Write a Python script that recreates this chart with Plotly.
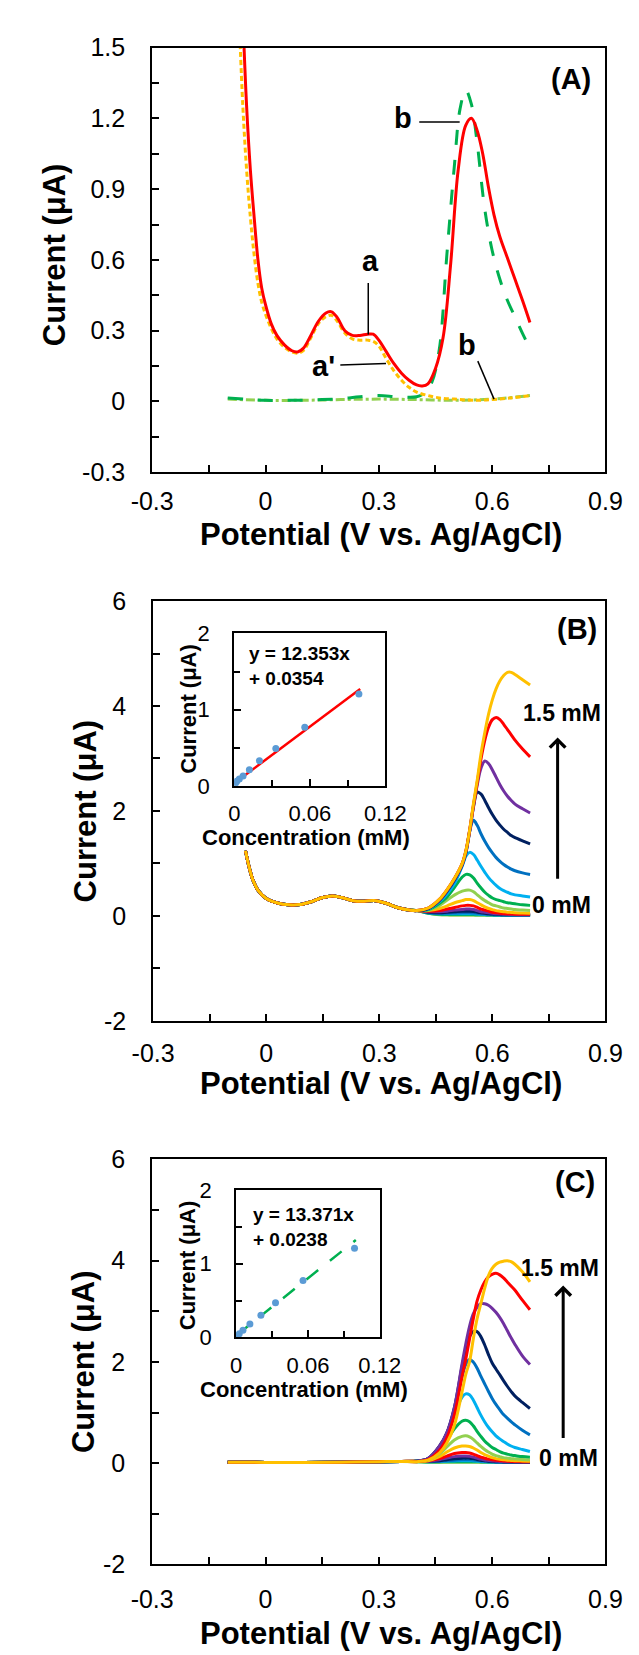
import plotly.graph_objects as go

W, H = 639, 1655
FONT = "Arial, 'Liberation Sans', sans-serif"

# ---------------- Panel A data ----------------
a_red_x = [-0.058, -0.05, -0.04, -0.03, -0.02, -0.01, 0.0, 0.015, 0.03, 0.05, 0.07, 0.085, 0.10, 0.12, 0.14, 0.16,
           0.175, 0.19, 0.21, 0.23, 0.25, 0.27, 0.285, 0.30, 0.32, 0.34, 0.36, 0.38, 0.40, 0.415, 0.43, 0.45, 0.47,
           0.49, 0.51, 0.53, 0.545, 0.56, 0.575, 0.59, 0.605, 0.62, 0.64, 0.66, 0.68, 0.70]
a_red_y = [1.55, 1.25, 0.98, 0.78, 0.60, 0.48, 0.41, 0.33, 0.28, 0.24, 0.215, 0.21, 0.225, 0.28, 0.34, 0.375,
           0.38, 0.355, 0.30, 0.28, 0.28, 0.285, 0.285, 0.26, 0.21, 0.16, 0.12, 0.09, 0.07, 0.066, 0.075, 0.14, 0.27,
           0.58, 0.98, 1.17, 1.20, 1.15, 1.05, 0.91, 0.79, 0.70, 0.61, 0.52, 0.43, 0.335]

a_orange_x = [-0.068, -0.06, -0.05, -0.04, -0.03, -0.02, -0.01, 0.0, 0.015, 0.03, 0.05, 0.07, 0.085, 0.10, 0.12,
              0.14, 0.16, 0.175, 0.19, 0.21, 0.23, 0.25, 0.27, 0.285, 0.30, 0.32, 0.34, 0.36, 0.38, 0.40, 0.43,
              0.46, 0.50, 0.55, 0.60, 0.65, 0.70]
a_orange_y = [1.55, 1.25, 0.98, 0.78, 0.62, 0.50, 0.42, 0.37, 0.31, 0.265, 0.23, 0.21, 0.205, 0.215, 0.27,
              0.33, 0.36, 0.365, 0.34, 0.29, 0.265, 0.26, 0.26, 0.255, 0.235, 0.18, 0.13, 0.09, 0.06, 0.04, 0.025,
              0.015, 0.01, 0.005, 0.008, 0.015, 0.025]

a_green_x = [-0.10, -0.05, 0.0, 0.05, 0.10, 0.15, 0.20, 0.25, 0.30, 0.35, 0.40, 0.42, 0.44, 0.46, 0.48, 0.50,
             0.515, 0.53, 0.545, 0.56, 0.58, 0.60, 0.62, 0.64, 0.66, 0.68, 0.70]
a_green_y = [0.015, 0.01, 0.005, 0.005, 0.005, 0.008, 0.012, 0.02, 0.025, 0.02, 0.02, 0.035, 0.08, 0.22, 0.62, 1.0,
             1.24, 1.32, 1.26, 1.10, 0.82, 0.64, 0.52, 0.43, 0.36, 0.29, 0.225]

a_lgreen_x = [-0.10, 0.0, 0.10, 0.20, 0.30, 0.40, 0.50, 0.60, 0.70]
a_lgreen_y = [0.01, 0.005, 0.005, 0.008, 0.01, 0.008, 0.005, 0.01, 0.025]

# ---------------- Panels B / C shared grid ----------------
peak_x = [0.40, 0.43, 0.46, 0.48, 0.50, 0.52, 0.53, 0.54, 0.55, 0.56, 0.57, 0.58, 0.59, 0.60, 0.61, 0.62, 0.63,
          0.64, 0.65, 0.66, 0.68, 0.70]
curve_colors = ["#FFC000", "#FF0000", "#7030A0", "#002060", "#0070C0", "#00B0F0", "#00B050", "#92D050",
                "#FFC000", "#FF0000", "#7030A0", "#002060", "#0070C0", "#00B0F0", "#00B050", "#92D050"]

# Panel B (first = 1.5 mM, last = 0 mM)
b_base_x = [-0.055, -0.045, -0.035, -0.02, 0.0, 0.03, 0.06, 0.09, 0.12, 0.15, 0.175, 0.20, 0.23, 0.26, 0.29,
            0.32, 0.35, 0.38]
b_base_y = [1.24, 0.92, 0.68, 0.47, 0.33, 0.245, 0.21, 0.215, 0.27, 0.35, 0.38, 0.35, 0.29, 0.28, 0.29, 0.235,
            0.155, 0.11]
b_peaks = [
    [0.10, 0.15, 0.32, 0.50, 0.72, 1.00, 1.25, 1.65, 2.15, 2.60, 3.10, 3.50, 3.85, 4.12, 4.33, 4.48, 4.58, 4.64, 4.64, 4.60, 4.50, 4.40],
    [0.10, 0.15, 0.32, 0.50, 0.72, 1.00, 1.25, 1.65, 2.12, 2.55, 3.00, 3.35, 3.60, 3.74, 3.78, 3.74, 3.65, 3.55, 3.45, 3.35, 3.18, 3.03],
    [0.10, 0.15, 0.31, 0.49, 0.71, 0.99, 1.24, 1.63, 2.10, 2.50, 2.82, 2.95, 2.90, 2.78, 2.64, 2.50, 2.38, 2.28, 2.20, 2.13, 2.04, 1.96],
    [0.10, 0.14, 0.30, 0.48, 0.70, 0.98, 1.22, 1.62, 2.08, 2.36, 2.32, 2.20, 2.06, 1.93, 1.82, 1.73, 1.65, 1.59, 1.53, 1.49, 1.43, 1.37],
    [0.10, 0.14, 0.29, 0.46, 0.68, 0.96, 1.20, 1.62, 1.82, 1.72, 1.56, 1.42, 1.30, 1.20, 1.11, 1.04, 0.98, 0.93, 0.89, 0.86, 0.82, 0.79],
    [0.10, 0.13, 0.27, 0.42, 0.62, 0.95, 1.14, 1.21, 1.17, 1.06, 0.94, 0.83, 0.73, 0.65, 0.58, 0.52, 0.48, 0.45, 0.42, 0.40, 0.38, 0.36],
    [0.10, 0.12, 0.24, 0.36, 0.55, 0.74, 0.79, 0.78, 0.72, 0.62, 0.53, 0.45, 0.39, 0.34, 0.31, 0.29, 0.27, 0.25, 0.24, 0.23, 0.21, 0.20],
    [0.10, 0.11, 0.20, 0.30, 0.40, 0.47, 0.49, 0.49, 0.46, 0.40, 0.34, 0.29, 0.25, 0.21, 0.19, 0.17, 0.15, 0.14, 0.13, 0.12, 0.11, 0.10],
    [0.10, 0.10, 0.14, 0.19, 0.25, 0.29, 0.31, 0.31, 0.29, 0.25, 0.21, 0.17, 0.14, 0.12, 0.10, 0.09, 0.08, 0.07, 0.065, 0.06, 0.055, 0.05],
    [0.10, 0.09, 0.10, 0.13, 0.16, 0.19, 0.20, 0.20, 0.19, 0.16, 0.13, 0.11, 0.09, 0.07, 0.06, 0.05, 0.045, 0.04, 0.035, 0.03, 0.03, 0.03],
    [0.10, 0.08, 0.08, 0.09, 0.11, 0.12, 0.13, 0.13, 0.12, 0.10, 0.08, 0.07, 0.06, 0.05, 0.04, 0.035, 0.03, 0.03, 0.025, 0.025, 0.02, 0.02],
    [0.10, 0.07, 0.06, 0.07, 0.08, 0.09, 0.09, 0.09, 0.085, 0.07, 0.06, 0.05, 0.04, 0.035, 0.03, 0.025, 0.02, 0.02, 0.02, 0.02, 0.02, 0.02],
    [0.10, 0.06, 0.05, 0.05, 0.055, 0.06, 0.06, 0.06, 0.055, 0.05, 0.04, 0.035, 0.03, 0.025, 0.02, 0.02, 0.02, 0.015, 0.015, 0.015, 0.015, 0.015],
    [0.10, 0.06, 0.04, 0.04, 0.04, 0.04, 0.04, 0.04, 0.04, 0.035, 0.03, 0.025, 0.02, 0.02, 0.015, 0.015, 0.015, 0.015, 0.01, 0.01, 0.01, 0.01],
    [0.10, 0.05, 0.03, 0.025, 0.025, 0.025, 0.025, 0.025, 0.025, 0.02, 0.02, 0.02, 0.015, 0.015, 0.01, 0.01, 0.01, 0.01, 0.01, 0.01, 0.01, 0.01],
    [0.10, 0.05, 0.02, 0.015, 0.01, 0.01, 0.01, 0.01, 0.01, 0.01, 0.01, 0.01, 0.01, 0.01, 0.01, 0.01, 0.01, 0.01, 0.01, 0.01, 0.01, 0.01],
]

# Panel C
c_base_x = [-0.10, 0.0, 0.10, 0.20, 0.30, 0.36]
c_base_y = [0.02, 0.015, 0.015, 0.02, 0.03, 0.035]
c_peaks = [
    [0.03, 0.06, 0.20, 0.40, 0.75, 1.40, 1.75, 2.00, 2.45, 2.85, 3.15, 3.45, 3.70, 3.85, 3.93, 3.97, 3.99, 4.00, 3.98, 3.93, 3.78, 3.58],
    [0.03, 0.07, 0.25, 0.50, 0.95, 1.70, 2.05, 2.45, 2.85, 3.20, 3.42, 3.58, 3.68, 3.73, 3.75, 3.72, 3.66, 3.58, 3.50, 3.42, 3.22, 3.03],
    [0.04, 0.09, 0.33, 0.60, 1.10, 1.95, 2.35, 2.70, 2.95, 3.08, 3.15, 3.15, 3.12, 3.06, 2.98, 2.88, 2.76, 2.62, 2.48, 2.35, 2.12, 1.95],
    [0.04, 0.09, 0.33, 0.60, 1.10, 1.90, 2.25, 2.50, 2.60, 2.60, 2.50, 2.34, 2.15, 1.98, 1.86, 1.75, 1.63, 1.52, 1.42, 1.33, 1.20, 1.08],
    [0.04, 0.09, 0.32, 0.58, 1.05, 1.70, 1.95, 2.05, 2.00, 1.88, 1.72, 1.57, 1.42, 1.28, 1.16, 1.06, 0.96, 0.89, 0.82, 0.76, 0.65, 0.56],
    [0.04, 0.08, 0.30, 0.55, 0.95, 1.30, 1.37, 1.35, 1.25, 1.10, 0.95, 0.82, 0.71, 0.62, 0.54, 0.48, 0.43, 0.38, 0.34, 0.31, 0.27, 0.23],
    [0.04, 0.07, 0.25, 0.45, 0.68, 0.83, 0.85, 0.82, 0.74, 0.63, 0.53, 0.44, 0.37, 0.31, 0.27, 0.23, 0.20, 0.18, 0.16, 0.15, 0.13, 0.12],
    [0.04, 0.06, 0.18, 0.32, 0.46, 0.53, 0.54, 0.52, 0.47, 0.40, 0.33, 0.27, 0.22, 0.18, 0.15, 0.13, 0.11, 0.10, 0.09, 0.085, 0.075, 0.07],
    [0.04, 0.05, 0.13, 0.22, 0.30, 0.34, 0.34, 0.33, 0.30, 0.26, 0.21, 0.17, 0.14, 0.11, 0.09, 0.08, 0.07, 0.06, 0.055, 0.05, 0.045, 0.04],
    [0.04, 0.05, 0.09, 0.14, 0.19, 0.21, 0.21, 0.20, 0.18, 0.15, 0.12, 0.10, 0.08, 0.07, 0.06, 0.05, 0.045, 0.04, 0.035, 0.035, 0.03, 0.03],
    [0.04, 0.04, 0.07, 0.10, 0.13, 0.14, 0.14, 0.135, 0.12, 0.10, 0.08, 0.065, 0.055, 0.045, 0.04, 0.035, 0.03, 0.03, 0.03, 0.025, 0.025, 0.025],
    [0.04, 0.04, 0.05, 0.07, 0.09, 0.10, 0.10, 0.10, 0.09, 0.075, 0.06, 0.05, 0.04, 0.035, 0.03, 0.03, 0.025, 0.025, 0.025, 0.02, 0.02, 0.02],
    [0.04, 0.035, 0.04, 0.05, 0.06, 0.07, 0.07, 0.07, 0.065, 0.055, 0.045, 0.04, 0.035, 0.03, 0.025, 0.025, 0.02, 0.02, 0.02, 0.02, 0.02, 0.02],
    [0.035, 0.03, 0.035, 0.04, 0.045, 0.05, 0.05, 0.05, 0.045, 0.04, 0.035, 0.03, 0.025, 0.025, 0.02, 0.02, 0.02, 0.02, 0.02, 0.02, 0.02, 0.02],
    [0.03, 0.025, 0.025, 0.03, 0.03, 0.03, 0.03, 0.03, 0.03, 0.03, 0.025, 0.025, 0.02, 0.02, 0.02, 0.02, 0.02, 0.02, 0.02, 0.02, 0.02, 0.02],
    [0.03, 0.02, 0.02, 0.02, 0.02, 0.02, 0.02, 0.02, 0.02, 0.02, 0.02, 0.02, 0.02, 0.02, 0.02, 0.02, 0.02, 0.02, 0.02, 0.02, 0.02, 0.02],
]

# Insets (calibration)
b_conc = [0.0005, 0.001, 0.002, 0.004, 0.007, 0.012, 0.020, 0.033, 0.056, 0.099]
b_curr = [0.02, 0.04, 0.06, 0.09, 0.13, 0.21, 0.33, 0.49, 0.77, 1.205]
b_fit_x = [0.0, 0.1]
b_fit_y = [0.035, 1.27]
c_conc = [0.0005, 0.001, 0.0026, 0.0057, 0.0115, 0.0207, 0.0329, 0.0559, 0.0989]
c_curr = [0.01, 0.02, 0.048, 0.096, 0.18, 0.30, 0.47, 0.77, 1.21]
c_fit_x = [0.0, 0.1]
c_fit_y = [0.024, 1.32]

# Tick labels
main_x_ticks = [-0.3, 0.0, 0.3, 0.6, 0.9]
main_x_text = ["-0.3", "0", "0.3", "0.6", "0.9"]
main_x_minor = [-0.15, 0.15, 0.45, 0.75]
a_y_ticks = [-0.3, 0.0, 0.3, 0.6, 0.9, 1.2, 1.5]
a_y_text = ["-0.3", "0", "0.3", "0.6", "0.9", "1.2", "1.5"]
a_y_minor = [-0.15, 0.15, 0.45, 0.75, 1.05, 1.35]
bc_y_ticks = [-2, 0, 2, 4, 6]
bc_y_text = ["-2", "0", "2", "4", "6"]
bc_y_minor = [-1, 1, 3, 5]
in_x_ticks = [0, 0.06, 0.12]
in_x_text = ["0", "0.06", "0.12"]
in_x_minor = [0.03, 0.09]
in_y_ticks = [0, 1, 2]
in_y_text = ["0", "1", "2"]
in_y_minor = [0.5, 1.5]

fig = go.Figure()


def px(v):
    return v / W


def py(v):
    return 1 - v / H


# Panel A traces
fig.add_trace(go.Scatter(x=a_lgreen_x, y=a_lgreen_y, mode="lines", xaxis="x", yaxis="y",
                         line=dict(color="#92D050", width=3, dash="dashdot", shape="spline")))
fig.add_trace(go.Scatter(x=a_green_x, y=a_green_y, mode="lines", xaxis="x", yaxis="y",
                         line=dict(color="#00B050", width=3, dash="longdash", shape="spline")))
fig.add_trace(go.Scatter(x=a_orange_x, y=a_orange_y, mode="lines", xaxis="x", yaxis="y",
                         line=dict(color="#FFC000", width=3, dash="5px,3px", shape="spline")))
fig.add_trace(go.Scatter(x=a_red_x, y=a_red_y, mode="lines", xaxis="x", yaxis="y",
                         line=dict(color="#FF0000", width=3, shape="spline")))

# Panel B traces (0 mM drawn first)
for i in reversed(range(len(b_peaks))):
    fig.add_trace(go.Scatter(x=b_base_x + peak_x, y=b_base_y + b_peaks[i], mode="lines", xaxis="x2", yaxis="y2",
                             line=dict(color=curve_colors[i], width=3, shape="spline")))
# Panel C traces
for i in reversed(range(len(c_peaks))):
    fig.add_trace(go.Scatter(x=c_base_x + peak_x, y=c_base_y + c_peaks[i], mode="lines", xaxis="x3", yaxis="y3",
                             line=dict(color=curve_colors[i], width=3, shape="spline")))

# Insets
fig.add_trace(go.Scatter(x=b_fit_x, y=b_fit_y, mode="lines", xaxis="x4", yaxis="y4",
                         line=dict(color="#FF0000", width=2.5)))
fig.add_trace(go.Scatter(x=b_conc, y=b_curr, mode="markers", xaxis="x4", yaxis="y4",
                         marker=dict(color="#5B9BD5", size=7)))
fig.add_trace(go.Scatter(x=c_fit_x, y=c_fit_y, mode="lines", xaxis="x5", yaxis="y5",
                         line=dict(color="#00B050", width=2.5, dash="longdash")))
fig.add_trace(go.Scatter(x=c_conc, y=c_curr, mode="markers", xaxis="x5", yaxis="y5",
                         marker=dict(color="#5B9BD5", size=7)))

axis_common = dict(showline=True, linewidth=2, linecolor="black", mirror=True, showgrid=False, zeroline=False,
                   ticks="inside", ticklen=7, tickwidth=1.5, tickcolor="black", tickmode="array")


def main_x(dom, anchor, stand):
    return dict(axis_common, domain=dom, anchor=anchor, range=[-0.3, 0.9], tickvals=main_x_ticks,
                ticktext=main_x_text, tickfont=dict(size=25, color="black"), ticklabelstandoff=stand,
                minor=dict(tickmode="array", tickvals=main_x_minor, ticks="inside", ticklen=7, tickwidth=1.5,
                           tickcolor="black", showgrid=False))


def main_y(dom, anchor, rng, tv, tt, mv):
    return dict(axis_common, domain=dom, anchor=anchor, range=rng, tickvals=tv, ticktext=tt,
                tickfont=dict(size=25, color="black"), ticklabelstandoff=20,
                minor=dict(tickmode="array", tickvals=mv, ticks="inside", ticklen=7, tickwidth=1.5,
                           tickcolor="black", showgrid=False))


def inset_x(dom, anchor):
    return dict(axis_common, domain=dom, anchor=anchor, range=[0, 0.12], tickvals=in_x_ticks, ticktext=in_x_text,
                tickfont=dict(size=22, color="black"), ticklabelstandoff=7,
                minor=dict(tickmode="array", tickvals=in_x_minor, ticks="inside", ticklen=6, tickwidth=1.5,
                           tickcolor="black", showgrid=False))


def inset_y(dom, anchor):
    return dict(axis_common, domain=dom, anchor=anchor, range=[0, 2], tickvals=in_y_ticks, ticktext=in_y_text,
                tickfont=dict(size=22, color="black"), ticklabelstandoff=18,
                minor=dict(tickmode="array", tickvals=in_y_minor, ticks="inside", ticklen=6, tickwidth=1.5,
                           tickcolor="black", showgrid=False))


fig.update_layout(
    width=W, height=H, autosize=False, showlegend=False,
    margin=dict(l=0, r=0, t=0, b=0),
    paper_bgcolor="white", plot_bgcolor="white",
    font=dict(family=FONT, color="black"),
    xaxis=main_x([px(131), px(617)], "y", 6),
    yaxis=main_y([py(458), py(26)], "x", [-0.3, 1.5], a_y_ticks, a_y_text, a_y_minor),
    xaxis2=main_x([px(132), px(617)], "y2", 9),
    yaxis2=main_y([py(1016), py(589)], "x2", [-2, 6], bc_y_ticks, bc_y_text, bc_y_minor),
    xaxis3=main_x([px(131), px(617)], "y3", 12),
    yaxis3=main_y([py(1569), py(1157)], "x3", [-2, 6], bc_y_ticks, bc_y_text, bc_y_minor),
    xaxis4=inset_x([px(219), px(381)], "y4"),
    yaxis4=inset_y([py(777), py(622)], "x4"),
    xaxis5=inset_x([px(221), px(375)], "y5"),
    yaxis5=inset_y([py(1338), py(1188)], "x5"),
)

ann = []


def label(text, x, y, size, xref="paper", yref="paper", angle=0, xanchor="center", align="center"):
    ann.append(dict(text=text, x=x, y=y, xref=xref, yref=yref, showarrow=False, textangle=angle,
                    xanchor=xanchor, yanchor="middle", align=align,
                    font=dict(size=size, color="black", family=FONT)))


# axis titles
label("<b>Potential (V vs. Ag/AgCl)</b>", px(376), py(521), 31)
label("<b>Potential (V vs. Ag/AgCl)</b>", px(376), py(1080), 31)
label("<b>Potential (V vs. Ag/AgCl)</b>", px(376), py(1639), 31)
label("<b>Current (μA)</b>", px(27), py(237), 31, angle=-90)
label("<b>Current (μA)</b>", px(59), py(803), 31, angle=-90)
label("<b>Current (μA)</b>", px(58), py(1363), 31, angle=-90)
# inset titles
label("<b>Concentration (mM)</b>", px(296), py(830), 22)
label("<b>Concentration (mM)</b>", px(294), py(1391), 22)
label("<b>Current (μA)</b>", px(170), py(699), 22, angle=-90)
label("<b>Current (μA)</b>", px(169), py(1265), 22, angle=-90)
label("<b>y = 12.353x<br>+ 0.0354</b>", px(233), py(655), 19, xanchor="left", align="left")
label("<b>y = 13.371x<br>+ 0.0238</b>", px(237), py(1226), 19, xanchor="left", align="left")

# panel labels
label("<b>(A)</b>", 0.809, 1.368, 29, "x", "y")
label("<b>(B)</b>", 0.825, 5.46, 29, "x2", "y2")
label("<b>(C)</b>", 0.819, 5.55, 29, "x3", "y3")

# panel A curve labels
label("<b>b</b>", 0.365, 1.20, 29, "x", "y")
label("<b>a</b>", 0.279, 0.597, 29, "x", "y")
label("<b>a'</b>", 0.153, 0.149, 29, "x", "y")
label("<b>b</b>", 0.534, 0.239, 29, "x", "y")

# concentration labels
label("<b>1.5 mM</b>", 0.784, 3.87, 23, "x2", "y2")
label("<b>0 mM</b>", 0.784, 0.21, 23, "x2", "y2")
label("<b>1.5 mM</b>", 0.779, 3.86, 23, "x3", "y3")
label("<b>0 mM</b>", 0.801, 0.10, 23, "x3", "y3")

# arrows
ann.append(dict(x=0.773, y=3.40, ax=0.773, ay=0.68, xref="x2", yref="y2", axref="x2", ayref="y2", text="",
                showarrow=True, arrowhead=4, arrowsize=1, arrowwidth=3, arrowcolor="black"))
ann.append(dict(x=0.788, y=3.51, ax=0.788, ay=0.47, xref="x3", yref="y3", axref="x3", ayref="y3", text="",
                showarrow=True, arrowhead=4, arrowsize=1, arrowwidth=3, arrowcolor="black"))

fig.update_layout(annotations=ann)

# leader lines in panel A
leaders = [
    (0.407, 1.184, 0.514, 1.184),
    (0.272, 0.502, 0.272, 0.284),
    (0.198, 0.155, 0.319, 0.161),
    (0.562, 0.171, 0.605, 0.010),
]
for x0, y0, x1, y1 in leaders:
    fig.add_shape(type="line", x0=x0, y0=y0, x1=x1, y1=y1, xref="x", yref="y",
                  line=dict(color="black", width=1.5))

fig.write_html("out.html")
